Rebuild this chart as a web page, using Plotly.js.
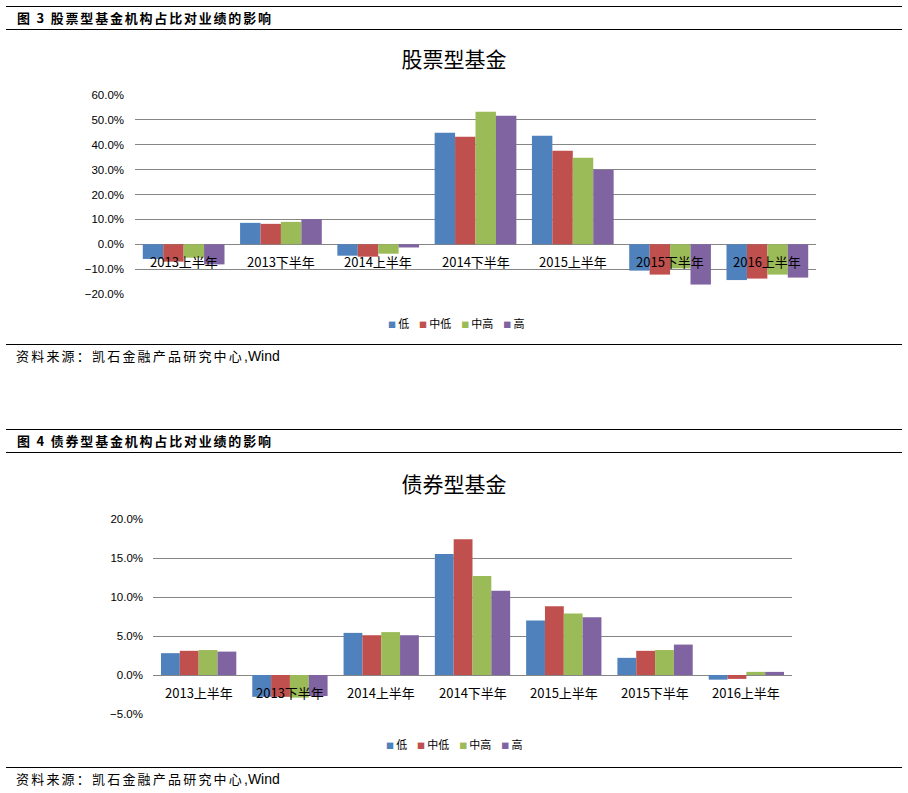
<!DOCTYPE html>
<html>
<head>
<meta charset="utf-8">
<script src="https://cdn.plot.ly/plotly-3.0.1.min.js"></script>
<style>
  html, body { margin: 0; padding: 0; background: #fff; }
  body { width: 908px; height: 793px; position: relative; overflow: hidden;
         font-family: "Noto Sans CJK SC", "Liberation Sans", sans-serif; }
  .rule { position: absolute; left: 6px; width: 896px; height: 0; border-top: 1.5px solid #000; }
  .hdr { position: absolute; left: 17px; font-size: 13px; font-weight: bold; letter-spacing: 1.8px; color: #000; line-height: 16px; }
  .src { position: absolute; left: 16px; font-size: 13px; color: #000; line-height: 16px; }
  .src .cn { letter-spacing: 2.2px; }
  .src .en { font-family: "Liberation Sans", Arial, sans-serif; font-size: 14px; letter-spacing: 0; }
  .btn { position: absolute; left: 20px; top: 40px; width: 53px; height: 23px; border: 1px solid #c8c8c8;
         background: linear-gradient(#ffffff, #f0f0f0); box-shadow: 2px 2px 2px #bdbdbd; color: #a0a0a0;
         font-size: 14px; line-height: 23px; text-align: center; }
  .chart { position: absolute; left: 0; width: 908px; }
</style>
</head>
<body>
<div class="rule" style="top:6px"></div>
<div class="hdr" style="top:10px">图 3 股票型基金机构占比对业绩的影响</div>
<div class="rule" style="top:29px"></div>
<div class="btn">图表区</div>
<div id="c1" class="chart" style="top:30px;height:310px"></div>
<div class="rule" style="top:344px"></div>
<div class="src" style="top:348px"><span class="cn">资料来源：凯石金融产品研究中心</span><span class="en">,Wind</span></div>

<div class="rule" style="top:429px"></div>
<div class="hdr" style="top:433px">图 4 债券型基金机构占比对业绩的影响</div>
<div class="rule" style="top:452px"></div>
<div id="c2" class="chart" style="top:455px;height:315px"></div>
<div class="rule" style="top:767px"></div>
<div class="src" style="top:771px"><span class="cn">资料来源：凯石金融产品研究中心</span><span class="en">,Wind</span></div>

<script>
// ---- data ----
const categories = ["2013上半年", "2013下半年", "2014上半年", "2014下半年", "2015上半年", "2015下半年", "2016上半年"];
const seriesNames = ["低", "中低", "中高", "高"];
const colors = ["#4F81BD", "#C0504D", "#9BBB59", "#8064A2"];

// 股票型基金 (fractions)
const stockLow     = [-0.059, 0.086, -0.046, 0.448, 0.436, -0.106, -0.144];
const stockMidLow  = [-0.070, 0.082, -0.050, 0.432, 0.376, -0.122, -0.138];
const stockMidHigh = [-0.054, 0.090, -0.038, 0.533, 0.348, -0.097, -0.122];
const stockHigh    = [-0.081, 0.101, -0.013, 0.517, 0.299, -0.162, -0.134];

// 债券型基金 (fractions)
const bondLow     = [0.028, -0.028, 0.054, 0.155, 0.070, 0.022, -0.006];
const bondMidLow  = [0.031, -0.028, 0.051, 0.174, 0.088, 0.031, -0.005];
const bondMidHigh = [0.032, -0.029, 0.055, 0.127, 0.079, 0.032, 0.004];
const bondHigh    = [0.030, -0.027, 0.051, 0.108, 0.074, 0.039, 0.004];

const stockTitle = "股票型基金";
const bondTitle = "债券型基金";
const stockTicks = [-0.2, -0.1, 0, 0.1, 0.2, 0.3, 0.4, 0.5, 0.6];
const bondTicks = [-0.05, 0, 0.05, 0.10, 0.15, 0.20];

function makeTraces(arrs) {
  return arrs.map((v, i) => ({
    type: "bar", x: categories, y: v, name: seriesNames[i],
    marker: { color: colors[i], line: { width: 0 } },
    hoverinfo: "skip", showlegend: false
  }));
}

function legendText() {
  return seriesNames.map((n, i) =>
    '<span style="color:' + colors[i] + ';font-size:8px">■</span>\u2009' + n
  ).join("\u00a0\u00a0\u00a0\u00a0");
}

function makeLayout(opts) {
  const plotH = opts.height - opts.t - opts.b;
  const anns = categories.map(c => ({
    x: c, y: 0, xref: "x", yref: "y", text: c, showarrow: false,
    yanchor: "middle", yshift: -17,
    font: { family: "Noto Sans CJK SC", size: 13, color: "#000" }
  }));
  anns.push({
    xref: "paper", yref: "paper", x: opts.legX, xanchor: "center",
    y: -(opts.legY - (opts.height - opts.b)) / plotH, yanchor: "middle",
    text: legendText(), showarrow: false,
    font: { family: "Noto Sans CJK SC", size: 11, color: "#000" }
  });
  return {
    width: 908, height: opts.height,
    margin: { l: opts.l, r: opts.r, t: opts.t, b: opts.b, pad: 0, autoexpand: false },
    paper_bgcolor: "#fff", plot_bgcolor: "#fff",
    showlegend: false,
    title: {
      text: opts.title, x: 0.5, xref: "container", xanchor: "center",
      y: 1 - 30 / opts.height, yref: "container", yanchor: "middle",
      font: { family: "Noto Sans CJK SC", size: 21, color: "#000" }
    },
    barmode: "group", bargap: opts.bargap, bargroupgap: 0,
    xaxis: {
      type: "category", showticklabels: false, showgrid: false, zeroline: false,
      showline: false, ticks: "", fixedrange: true
    },
    yaxis: {
      range: opts.range, tickvals: opts.ticks, tickformat: ".1%",
      showgrid: true, gridcolor: "#868686", gridwidth: 1,
      zeroline: true, zerolinecolor: "#868686", zerolinewidth: 1,
      showline: false, ticks: "", ticklabelstandoff: opts.standoff,
      tickfont: { family: "Liberation Sans, Arial, sans-serif", size: 11.5, color: "#000" },
      fixedrange: true
    },
    annotations: anns
  };
}

Plotly.newPlot("c1",
  makeTraces([stockLow, stockMidLow, stockMidHigh, stockHigh]),
  makeLayout({ height: 310, l: 135, r: 92, t: 65.3, b: 45.7, title: stockTitle,
               range: [-0.2, 0.6], ticks: stockTicks, bargap: 0.16, standoff: 10,
               legX: 0.471, legY: 293 }),
  { displayModeBar: false, staticPlot: true });

Plotly.newPlot("c2",
  makeTraces([bondLow, bondMidLow, bondMidHigh, bondHigh]),
  makeLayout({ height: 315, l: 153, r: 116, t: 64.3, b: 55.7, title: bondTitle,
               range: [-0.05, 0.20], ticks: bondTicks, bargap: 0.175, standoff: 9,
               legX: 0.471, legY: 289 }),
  { displayModeBar: false, staticPlot: true });
</script>
</body>
</html>
